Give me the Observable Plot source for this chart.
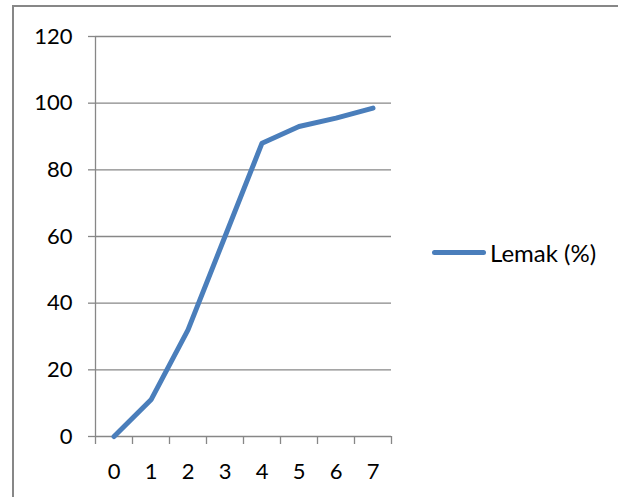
<!DOCTYPE html>
<html>
<head>
<meta charset="utf-8">
<script src="https://cdn.jsdelivr.net/npm/d3@7"></script>
<script src="https://cdn.jsdelivr.net/npm/@observablehq/plot@0.6"></script>
<style>
  html, body { margin: 0; padding: 0; background: #fff; overflow: hidden; }
  #wrap { position: relative; width: 618px; height: 497px; overflow: hidden; font-family: Lato, sans-serif; }
  #frame { position: absolute; left: 12px; top: 5px; width: 700px; height: 600px; border: 2px solid #878787; box-sizing: border-box; pointer-events: none; }
  #chart { position: absolute; left: 0; top: 0; }
  #legend { position: absolute; left: 432px; top: 238px; display: flex; align-items: center; font-size: 24px; color: #000; }
  #legend .sw { width: 54px; height: 5px; border-radius: 3px; background: #4a7ebb; margin-right: 4px; }
</style>
</head>
<body>
<div id="wrap">
  <div id="chart"></div>
  <div id="frame"></div>
  <div id="legend"><div class="sw"></div><span id="legtext"></span></div>
</div>
<script>
const categories = ["0", "1", "2", "3", "4", "5", "6", "7"];
const lemak = [0, 11, 32, 60, 88, 93, 95.5, 98.5];
const yTicks = [0, 20, 40, 60, 80, 100, 120];
const seriesName = "Lemak (%)";

const data = categories.map((c, i) => ({i, c, v: lemak[i]}));
const bounds = d3.range(categories.length + 1).map(i => i - 0.5);
const grid = "#878787";

const chart = Plot.plot({
  width: 618,
  height: 497,
  marginLeft: 95,
  marginRight: 227,
  marginTop: 36,
  marginBottom: 61,
  style: {fontFamily: "Lato, sans-serif", fontSize: "22px", color: "#000", background: "transparent"},
  x: {type: "linear", domain: [-0.5, categories.length - 0.5]},
  y: {domain: [0, 120]},
  marks: [
    Plot.gridY(yTicks, {stroke: grid, strokeOpacity: 1, strokeWidth: 1.3}),
    Plot.ruleX([-0.5], {y1: 0, y2: 120, stroke: grid, strokeWidth: 1.3}),
    Plot.axisY({ticks: yTicks, tickSize: 7, tickPadding: 16, stroke: grid, strokeWidth: 1.3, fill: "#000", label: null, fontSize: 22}),
    Plot.axisX({ticks: bounds, tickSize: 8, tickFormat: () => "", stroke: grid, strokeWidth: 1.3, label: null}),
    Plot.axisX({ticks: d3.range(categories.length), tickSize: 0, tickPadding: 27, tickFormat: i => categories[i], fill: "#000", label: null, fontSize: 22}),
    Plot.line(data, {x: "i", y: "v", stroke: "#4a7ebb", strokeWidth: 5, strokeLinecap: "round", strokeLinejoin: "round"})
  ]
});
document.getElementById("chart").appendChild(chart);
document.getElementById("legtext").textContent = seriesName;
</script>
</body>
</html>
